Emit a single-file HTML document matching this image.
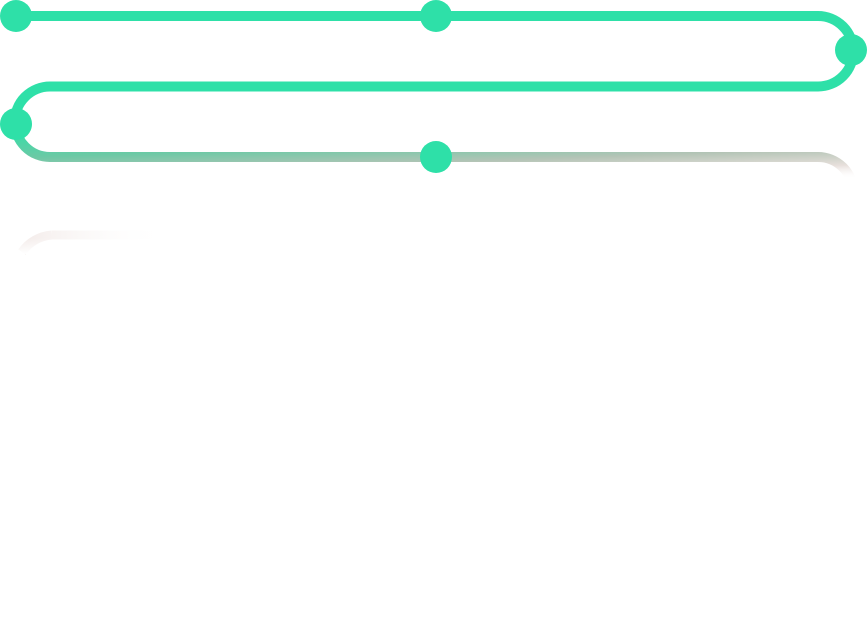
<!DOCTYPE html>
<html><head><style>html,body{margin:0;padding:0;background:#fff;width:867px;height:619px;overflow:hidden}</style></head>
<body>
<svg width="867" height="619" viewBox="0 0 867 619" xmlns="http://www.w3.org/2000/svg">
<defs>
<linearGradient id="g" gradientUnits="userSpaceOnUse" x1="0" y1="75" x2="5" y2="210">
<stop offset="0" stop-color="#2ee0a8"/>
<stop offset="0.4" stop-color="#2ee0a8"/>
<stop offset="0.62" stop-color="#6cc9a5"/>
<stop offset="0.77" stop-color="#b4c4b6"/>
<stop offset="0.9" stop-color="#e8e0dc"/>
<stop offset="1" stop-color="#ffffff" stop-opacity="0"/>
</linearGradient>
<linearGradient id="p" gradientUnits="userSpaceOnUse" x1="20" y1="0" x2="170" y2="0">
<stop offset="0" stop-color="#f3ebe9"/>
<stop offset="1" stop-color="#ffffff" stop-opacity="0"/>
</linearGradient>
<linearGradient id="pv" x1="0" y1="0" x2="0" y2="1">
<stop offset="0" stop-color="#fff" stop-opacity="0"/>
<stop offset="1" stop-color="#fff" stop-opacity="1"/>
</linearGradient>
</defs>
<path d="M16 16 H818 A35.25 35.25 0 0 1 818 86.5 H50 A35.25 35.25 0 0 0 50 157 H818 A35.25 35.25 0 0 1 818 227.5" fill="none" stroke="url(#g)" stroke-width="10"/>
<path d="M52 235 A40 40 0 0 0 22 252 M52 235 H170" fill="none" stroke="url(#p)" stroke-width="9"/>
<rect x="0" y="238" width="200" height="16" fill="url(#pv)"/>
<g fill="#2ee0a8">
<circle cx="16" cy="16" r="16"/>
<circle cx="436" cy="16" r="16"/>
<circle cx="851" cy="50" r="16"/>
<circle cx="16" cy="124" r="16"/>
<circle cx="436" cy="157" r="16"/>
</g>
</svg>
</body></html>
